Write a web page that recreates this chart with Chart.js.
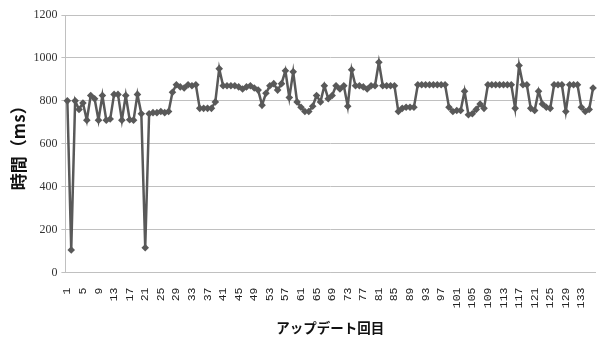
<!DOCTYPE html>
<html>
<head>
<meta charset="utf-8">
<script src="https://cdn.jsdelivr.net/npm/chart.js@4.4.1/dist/chart.umd.min.js"></script>
<style>
  html, body { margin: 0; padding: 0; background: #fff; }
  #wrap { width: 599px; height: 338px; }
</style>
</head>
<body>
<div id="wrap"><canvas id="update-chart" width="599" height="338"></canvas></div>
<script>
// update round numbers 1..136
const rounds = [];
for (let i = 1; i <= 136; i++) rounds.push(String(i));

// time per update (ms)
const times = [
  800, 105, 800, 760, 790, 710, 825, 810, 710, 825,
  710, 715, 830, 830, 710, 825, 712, 710, 830, 740,
  115, 740, 745, 745, 750, 745, 750, 840, 875, 865,
  860, 875, 870, 875, 765, 765, 765, 765, 795, 950,
  870, 870, 870, 870, 865, 855, 865, 870, 860, 850,
  780, 835, 870, 880, 850, 880, 940, 815, 935, 795,
  770, 750, 750, 775, 825, 795, 870, 810, 825, 870,
  855, 870, 775, 945, 870, 870, 865, 855, 870, 870,
  980, 870, 870, 870, 870, 750, 765, 770, 770, 770,
  875, 875, 875, 875, 875, 875, 875, 875, 770, 750,
  755, 755, 845, 735, 740, 760, 785, 765, 875, 875,
  875, 875, 875, 875, 875, 765, 965, 875, 875, 765,
  755, 845, 785, 770, 765, 875, 875, 875, 750, 875,
  875, 875, 770, 750, 760, 860
];

const yTicks = [0, 200, 400, 600, 800, 1000, 1200];

const lineColor = "#595959";
const gridColor = "#c0c0c0";

new Chart(document.getElementById("update-chart"), {
  type: "line",
  data: {
    labels: rounds,
    datasets: [{
      data: times,
      borderColor: lineColor,
      backgroundColor: lineColor,
      borderWidth: 2.5,
      pointStyle: "rectRot",
      pointRadius: 3.8,
      pointBorderWidth: 0,
      tension: 0,
    }],
  },
  options: {
    responsive: false,
    animation: false,
    layout: { padding: { top: 15, right: 0, left: 0, bottom: 0 } },
    plugins: { legend: { display: false }, tooltip: { enabled: false } },
    scales: {
      x: {
        offset: true,
        grid: { display: false },
        border: { display: true, color: gridColor, width: 1 },
        ticks: {
          autoSkip: false,
          maxRotation: 90,
          minRotation: 90,
          padding: 7,
          color: "#222",
          font: { family: "Liberation Mono", size: 11.5 },
          callback: (v, i) => (i % 4 === 0 ? rounds[i] : ""),
        },
        title: {
          display: true,
          text: "アップデート回目",
          color: "#111",
          font: { family: "Noto Sans CJK JP", size: 13.5, weight: "bold" },
          padding: { top: 2, bottom: 2 },
        },
        afterFit: (s) => {
          s.height = 65.5;
          s.paddingLeft = 0;
          s.paddingRight = 0;
        },
      },
      y: {
        min: 0,
        max: 1200,
        afterBuildTicks: (s) => { s.ticks = yTicks.map((v) => ({ value: v })); },
        grid: { color: gridColor, tickLength: 4, lineWidth: 1 },
        border: { display: true, color: gridColor, width: 1 },
        ticks: {
          padding: 4,
          color: "#333",
          font: { family: "Liberation Sans Narrow", size: 12 },
          callback: (v) => String(v),
        },
        title: {
          display: true,
          text: "時間（ms）",
          color: "#111",
          font: { family: "Noto Sans CJK JP", size: 17, weight: "bold" },
          padding: { top: 8, bottom: 0 },
        },
        afterFit: (s) => { s.width = 65.4; },
      },
    },
  },
});
</script>
</body>
</html>
